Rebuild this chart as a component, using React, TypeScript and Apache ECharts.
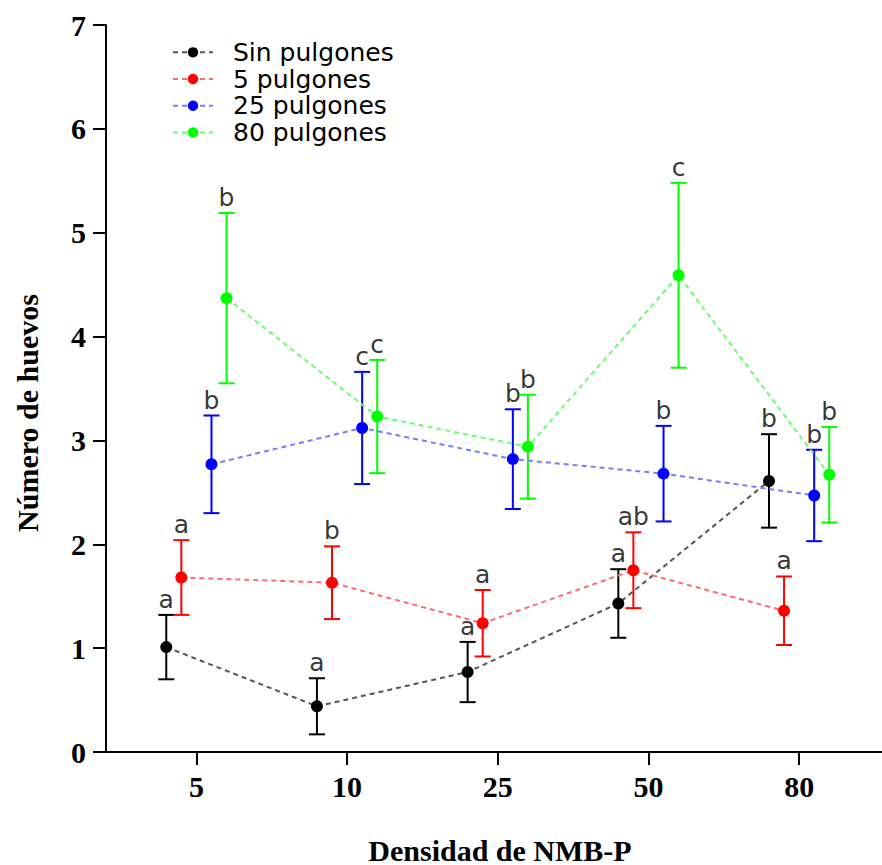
import React, { useEffect, useRef } from "react";
import * as echarts from "echarts";

const categories = ["5", "10", "25", "50", "80"];
const seriesNames = ["Sin pulgones", "5 pulgones", "25 pulgones", "80 pulgones"];
const seriesColors = ["#000000", "#ff0000", "#0000ff", "#00ff00"];
const lineColors = ["#555555", "#ff6a6a", "#7a7aff", "#6aff6a"];

const sinMean = [1.01, 0.44, 0.77, 1.43, 2.61];
const sinErr = [0.31, 0.27, 0.29, 0.33, 0.45];
const p5Mean = [1.68, 1.63, 1.24, 1.75, 1.36];
const p5Err = [0.36, 0.35, 0.32, 0.365, 0.33];
const p25Mean = [2.77, 3.12, 2.82, 2.68, 2.47];
const p25Err = [0.47, 0.54, 0.48, 0.46, 0.44];
const p80Mean = [4.37, 3.23, 2.94, 4.59, 2.67];
const p80Err = [0.82, 0.545, 0.5, 0.89, 0.46];

const sinLetters = ["a", "a", "a", "a", "b"];
const p5Letters = ["a", "b", "a", "ab", "a"];
const p25Letters = ["b", "c", "b", "b", "b"];
const p80Letters = ["b", "c", "b", "c", "b"];

const yTickValues = [0, 1, 2, 3, 4, 5, 6, 7];

const means = [sinMean, p5Mean, p25Mean, p80Mean];
const errs = [sinErr, p5Err, p25Err, p80Err];
const letters = [sinLetters, p5Letters, p25Letters, p80Letters];
const dodge = [-0.2, -0.1, 0.1, 0.2];

export default function App() {
  const ref = useRef<HTMLDivElement>(null);
  useEffect(() => {
    const chart = echarts.init(ref.current!, null, { renderer: "svg" });
    const series: any[] = [];
    means.forEach((m, s) => {
      const color = seriesColors[s];
      const xs = categories.map((_, i) => i + 1 + dodge[s]);
      series.push({
        name: seriesNames[s] + "_err",
        type: "custom",
        z: 2,
        silent: true,
        data: m.map((v, i) => [xs[i], v - errs[s][i], v + errs[s][i]]),
        encode: { x: 0, y: [1, 2] },
        renderItem: (params: any, api: any) => {
          const x = api.value(0);
          const lo = api.coord([x, api.value(1)]);
          const hi = api.coord([x, api.value(2)]);
          const w = 8;
          const st = { stroke: color, lineWidth: 2 };
          return {
            type: "group",
            children: [
              { type: "line", shape: { x1: hi[0], y1: hi[1], x2: lo[0], y2: lo[1] }, style: st },
              { type: "line", shape: { x1: hi[0] - w, y1: hi[1], x2: hi[0] + w, y2: hi[1] }, style: st },
              { type: "line", shape: { x1: lo[0] - w, y1: lo[1], x2: lo[0] + w, y2: lo[1] }, style: st },
            ],
          };
        },
      });
      series.push({
        name: seriesNames[s],
        type: "line",
        z: 3,
        data: m.map((v, i) => [xs[i], v]),
        symbol: "circle",
        symbolSize: 12,
        itemStyle: { color },
        lineStyle: { color: lineColors[s], width: 2, type: [5, 4] },
      });
      series.push({
        name: seriesNames[s] + "_lab",
        type: "scatter",
        z: 4,
        silent: true,
        symbolSize: 0,
        data: m.map((v, i) => [xs[i], v + errs[s][i]]),
        label: {
          show: true,
          position: "top",
          distance: 3,
          formatter: (p: any) => letters[s][p.dataIndex],
          fontFamily: "DejaVu Sans",
          fontSize: 25,
          color: "#000",
        },
      });
    });

    chart.setOption({
      animation: false,
      grid: { left: 106, right: 0, top: 25, bottom: 113, containLabel: false },
      legend: {
        orient: "vertical",
        left: 172,
        top: 39,
        padding: 0,
        itemWidth: 40,
        itemHeight: 13,
        itemGap: 0,
        data: seriesNames,
        textStyle: {
          fontFamily: "DejaVu Sans",
          fontSize: 25,
          lineHeight: 26.7,
          color: "#000",
          padding: [0, 0, 0, 15],
        },
      },
      xAxis: {
        type: "value",
        min: 0.4,
        max: 5.55,
        splitLine: { show: false },
        axisLine: { show: true, lineStyle: { color: "#000", width: 2 } },
        axisTick: { show: true, length: 13, customValues: [1, 2, 3, 4, 5], lineStyle: { color: "#000", width: 2 } },
        axisLabel: {
          customValues: [1, 2, 3, 4, 5],
          formatter: (v: number) => categories[Math.round(v) - 1] ?? "",
          fontFamily: "Liberation Serif",
          fontWeight: "bold",
          fontSize: 30,
          color: "#000",
          margin: 19,
        },
      },
      yAxis: {
        type: "value",
        min: yTickValues[0],
        max: yTickValues[yTickValues.length - 1],
        interval: 1,
        splitLine: { show: false },
        axisLine: { show: true, lineStyle: { color: "#000", width: 2 } },
        axisTick: { show: true, length: 13, lineStyle: { color: "#000", width: 2 } },
        axisLabel: {
          fontFamily: "Liberation Serif",
          fontWeight: "bold",
          fontSize: 30,
          color: "#000",
          margin: 20,
        },
      },
      graphic: [
        {
          type: "text",
          x: 27,
          y: 413,
          rotation: Math.PI / 2,
          style: {
            text: "Número de huevos",
            fontFamily: "Liberation Serif",
            fontWeight: "bold",
            fontSize: 30,
            fill: "#000",
            align: "center",
            verticalAlign: "middle",
          },
        },
        {
          type: "text",
          x: 500,
          y: 850,
          style: {
            text: "Densidad de NMB-P",
            fontFamily: "Liberation Serif",
            fontWeight: "bold",
            fontSize: 30,
            fill: "#000",
            align: "center",
            verticalAlign: "middle",
          },
        },
      ],
      series,
    });
    return () => chart.dispose();
  }, []);
  return <div ref={ref} style={{ position: "absolute", left: 0, top: 0, width: 882, height: 865 }} />;
}
